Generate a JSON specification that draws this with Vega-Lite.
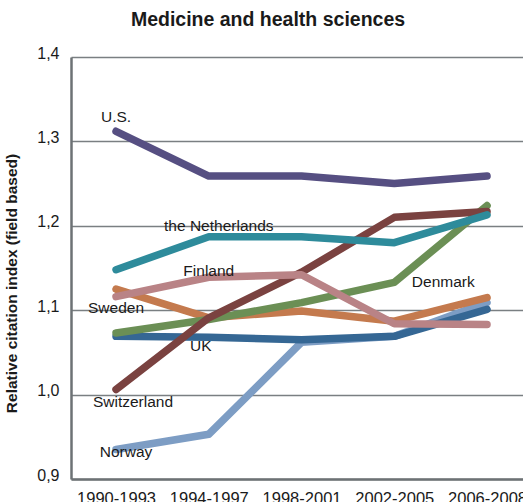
{
  "$schema": "https://vega.github.io/schema/vega-lite/v6.json",
  "width": 452,
  "height": 422,
  "autosize": {"type": "none"},
  "padding": {"left": 71, "top": 57, "right": 0, "bottom": 23},
  "background": "white",
  "title": {
    "text": "Medicine and health sciences",
    "fontSize": 19.5,
    "fontWeight": "bold",
    "font": "Liberation Sans",
    "color": "#1a1a1a",
    "anchor": "middle",
    "dx": -29,
    "baseline": "alphabetic",
    "offset": 0
  },
  "config": {
    "view": {"stroke": null},
    "font": "Liberation Sans"
  },
  "datasets": {
    "series": [
      {"country": "Norway", "period": "1990-1993", "value": 0.935},
      {"country": "Norway", "period": "1994-1997", "value": 0.953},
      {"country": "Norway", "period": "1998-2001", "value": 1.062},
      {"country": "Norway", "period": "2002-2005", "value": 1.069},
      {"country": "Norway", "period": "2006-2008", "value": 1.109},
      {"country": "UK", "period": "1990-1993", "value": 1.069},
      {"country": "UK", "period": "1994-1997", "value": 1.068},
      {"country": "UK", "period": "1998-2001", "value": 1.065},
      {"country": "UK", "period": "2002-2005", "value": 1.069},
      {"country": "UK", "period": "2006-2008", "value": 1.101},
      {"country": "Sweden", "period": "1990-1993", "value": 1.125},
      {"country": "Sweden", "period": "1994-1997", "value": 1.091},
      {"country": "Sweden", "period": "1998-2001", "value": 1.099},
      {"country": "Sweden", "period": "2002-2005", "value": 1.087},
      {"country": "Sweden", "period": "2006-2008", "value": 1.115},
      {"country": "Denmark", "period": "1990-1993", "value": 1.073},
      {"country": "Denmark", "period": "1994-1997", "value": 1.089},
      {"country": "Denmark", "period": "1998-2001", "value": 1.109},
      {"country": "Denmark", "period": "2002-2005", "value": 1.133},
      {"country": "Denmark", "period": "2006-2008", "value": 1.224},
      {"country": "Switzerland", "period": "1990-1993", "value": 1.006},
      {"country": "Switzerland", "period": "1994-1997", "value": 1.091},
      {"country": "Switzerland", "period": "1998-2001", "value": 1.145},
      {"country": "Switzerland", "period": "2002-2005", "value": 1.210},
      {"country": "Switzerland", "period": "2006-2008", "value": 1.217},
      {"country": "Finland", "period": "1990-1993", "value": 1.116},
      {"country": "Finland", "period": "1994-1997", "value": 1.139},
      {"country": "Finland", "period": "1998-2001", "value": 1.142},
      {"country": "Finland", "period": "2002-2005", "value": 1.084},
      {"country": "Finland", "period": "2006-2008", "value": 1.083},
      {"country": "the Netherlands", "period": "1990-1993", "value": 1.148},
      {"country": "the Netherlands", "period": "1994-1997", "value": 1.187},
      {"country": "the Netherlands", "period": "1998-2001", "value": 1.187},
      {"country": "the Netherlands", "period": "2002-2005", "value": 1.180},
      {"country": "the Netherlands", "period": "2006-2008", "value": 1.213},
      {"country": "U.S.", "period": "1990-1993", "value": 1.312},
      {"country": "U.S.", "period": "1994-1997", "value": 1.259},
      {"country": "U.S.", "period": "1998-2001", "value": 1.259},
      {"country": "U.S.", "period": "2002-2005", "value": 1.250},
      {"country": "U.S.", "period": "2006-2008", "value": 1.259}
    ],
    "labels": [
      {"label": "U.S.", "period": "1990-1993", "value": 1.329, "grp": "a"},
      {"label": "Sweden", "period": "1990-1993", "value": 1.103, "grp": "a"},
      {"label": "Finland", "period": "1994-1997", "value": 1.147, "grp": "a"},
      {"label": "the Netherlands", "period": "1994-1997", "value": 1.200, "grp": "b"},
      {"label": "Norway", "period": "1990-1993", "value": 0.932, "grp": "b"},
      {"label": "UK", "period": "1994-1997", "value": 1.057, "grp": "c"},
      {"label": "Switzerland", "period": "1990-1993", "value": 0.991, "grp": "d"},
      {"label": "Denmark", "period": "2002-2005", "value": 1.133, "grp": "e"}
    ]
  },
  "encoding": {
    "x": {
      "field": "period",
      "type": "ordinal",
      "sort": ["1990-1993", "1994-1997", "1998-2001", "2002-2005", "2006-2008"],
      "scale": {"type": "point", "padding": 0.4366, "align": 0.556},
      "axis": {
        "title": null,
        "labelAngle": 0,
        "labelFontSize": 16.5,
        "labelColor": "#1a1a1a",
        "labelPadding": 11,
        "ticks": false,
        "grid": false,
        "domainColor": "#6d7275",
        "domainWidth": 2.5
      }
    },
    "y": {
      "field": "value",
      "type": "quantitative",
      "scale": {"domain": [0.9, 1.4], "nice": false, "zero": false},
      "axis": {
        "title": "Relative citation index (field based)",
        "titleFontSize": 15.5,
        "titleFontWeight": "bold",
        "titleColor": "#1a1a1a",
        "titleY": 226,
        "titleX": -52,
        "values": [0.9, 1.0, 1.1, 1.2, 1.3, 1.4],
        "labelExpr": "replace(format(datum.value, '.1f'), '.', ',')",
        "labelFontSize": 16,
        "labelColor": "#1a1a1a",
        "labelPadding": 12,
        "labelBaseline": "alphabetic",
        "labelOffset": 1,
        "ticks": false,
        "grid": true,
        "gridColor": "#7a7f82",
        "gridWidth": 1.5,
        "domainColor": "#6d7275",
        "domainWidth": 2.5
      }
    }
  },
  "layer": [
    {
      "data": {"name": "series"},
      "mark": {"type": "line", "strokeWidth": 7.5, "strokeCap": "round", "strokeJoin": "round"},
      "encoding": {
        "color": {
          "field": "country",
          "type": "nominal",
          "legend": null,
          "scale": {
            "domain": ["Norway", "UK", "Sweden", "Denmark", "Switzerland", "Finland", "the Netherlands", "U.S."],
            "range": ["#7d9dc4", "#356794", "#c47a4e", "#6b8f55", "#7a4240", "#b98386", "#2e8b9b", "#564f82"]
          }
        }
      }
    },
    {
      "data": {"name": "labels"},
      "transform": [{"filter": "datum.grp == 'a'"}],
      "mark": {"type": "text", "fontSize": 15.5, "color": "#1a1a1a", "align": "center", "baseline": "middle"},
      "encoding": {"text": {"field": "label"}}
    },
    {
      "data": {"name": "labels"},
      "transform": [{"filter": "datum.grp == 'b'"}],
      "mark": {"type": "text", "fontSize": 15.5, "color": "#1a1a1a", "align": "center", "baseline": "middle", "dx": 10},
      "encoding": {"text": {"field": "label"}}
    },
    {
      "data": {"name": "labels"},
      "transform": [{"filter": "datum.grp == 'c'"}],
      "mark": {"type": "text", "fontSize": 15.5, "color": "#1a1a1a", "align": "center", "baseline": "middle", "dx": -8},
      "encoding": {"text": {"field": "label"}}
    },
    {
      "data": {"name": "labels"},
      "transform": [{"filter": "datum.grp == 'd'"}],
      "mark": {"type": "text", "fontSize": 15.5, "color": "#1a1a1a", "align": "center", "baseline": "middle", "dx": 17},
      "encoding": {"text": {"field": "label"}}
    },
    {
      "data": {"name": "labels"},
      "transform": [{"filter": "datum.grp == 'e'"}],
      "mark": {"type": "text", "fontSize": 15.5, "color": "#1a1a1a", "align": "center", "baseline": "middle", "dx": 49},
      "encoding": {"text": {"field": "label"}}
    }
  ]
}
